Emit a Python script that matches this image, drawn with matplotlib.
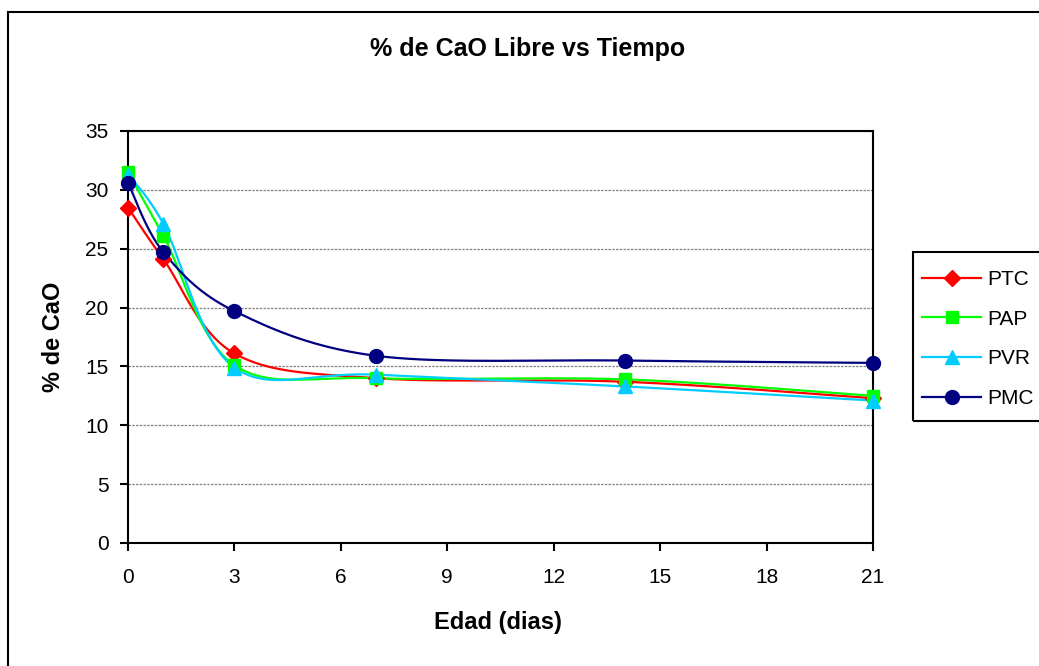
import numpy as np
import matplotlib
matplotlib.use("Agg")
import matplotlib.pyplot as plt
from matplotlib.patches import Rectangle

plt.rcParams["font.family"] = ["Liberation Sans", "DejaVu Sans"]

# Age of the samples (days) and free CaO content (%) per mix
dias = [0, 1, 3, 7, 14, 21]
ptc = [28.5, 24.1, 16.1, 14.0, 13.7, 12.3]
pap = [31.5, 26.1, 15.1, 14.0, 13.9, 12.5]
pvr = [31.3, 27.1, 14.9, 14.3, 13.3, 12.1]
pmc = [30.6, 24.7, 19.7, 15.9, 15.5, 15.3]

series_names = ["PTC", "PAP", "PVR", "PMC"]
series_values = [ptc, pap, pvr, pmc]
x_ticks = [0, 3, 6, 9, 12, 15, 18, 21]
y_ticks = [0, 5, 10, 15, 20, 25, 30, 35]

colors = ["#FF0000", "#00FF00", "#00CCFF", "#000080"]
markers = ["D", "s", "^", "o"]
msizes = [8.5, 9, 10.5, 10]


def smooth_curve(x, y, n=40):
    """Cubic Bezier smoothing through every point (Catmull-Rom style)."""
    p = np.column_stack([x, y]).astype(float)
    pts = np.vstack([p[0], p, p[-1]])
    out = []
    t = np.linspace(0, 1, n)[:, None]
    for i in range(1, len(pts) - 2):
        p0, p1, p2, p3 = pts[i - 1], pts[i], pts[i + 1], pts[i + 2]
        c1 = p1 + (p2 - p0) / 6.0
        c2 = p2 - (p3 - p1) / 6.0
        seg = ((1 - t) ** 3) * p1 + 3 * ((1 - t) ** 2) * t * c1 \
            + 3 * (1 - t) * t ** 2 * c2 + t ** 3 * p2
        out.append(seg if i == 1 else seg[1:])
    curve = np.vstack(out)
    return curve[:, 0], curve[:, 1]


W, H = 1039, 666
fig = plt.figure(figsize=(W / 100, H / 100), dpi=100)
ax = fig.add_axes([128 / W, 1 - 543 / H, 745 / W, 412 / H])

handles = []
for name, vals, c, m, ms in zip(series_names, series_values, colors, markers, msizes):
    sx, sy = smooth_curve(dias, vals)
    ax.plot(sx, sy, color=c, lw=1.6, zorder=3, clip_on=False)
    ax.plot(dias, vals, linestyle="none", marker=m, color=c, ms=ms,
            mec=c, zorder=4, clip_on=False)
    h, = ax.plot([], [], color=c, lw=1.6, marker=m, ms=ms, mec=c)
    handles.append(h)

ax.set_xlim(0, 21)
ax.set_ylim(0, 35)
ax.set_xticks(x_ticks)
ax.set_yticks(y_ticks)
ax.tick_params(axis="both", direction="out", length=6, width=1.5,
               labelsize=15, colors="black")
ax.tick_params(axis="y", pad=8)
ax.tick_params(axis="x", pad=12)
for s in ax.spines.values():
    s.set_linewidth(1.5)
    s.set_color("black")
ax.yaxis.grid(True, color="#808080", linestyle=(0, (2, 1)), linewidth=0.9)
ax.set_axisbelow(True)

fig.text(528 / W, 1 - 49 / H, "% de CaO Libre vs Tiempo", ha="center",
         va="center", fontsize=18, fontweight="bold")
fig.text(498 / W, 1 - 622 / H, "Edad (dias)", ha="center", va="center",
         fontsize=17, fontweight="bold")
fig.text(54 / W, 1 - 337 / H, "% de CaO", ha="center", va="center",
         rotation=90, fontsize=17, fontweight="bold")

# outer chart frame
fig.add_artist(Rectangle((8 / W, -0.2), 1.3, 1 - 12 / H + 0.2,
                         transform=fig.transFigure, fill=False,
                         edgecolor="black", lw=1.5))
# legend frame
fig.add_artist(Rectangle((913 / W, 1 - 421 / H), 0.3, 169 / H,
                         transform=fig.transFigure, fill=False,
                         edgecolor="black", lw=1.5))
fig.legend(handles, series_names, loc="upper left",
           bbox_to_anchor=(922 / W, 1 - 270 / H), frameon=False,
           fontsize=15, handlelength=2.85, handletextpad=0.3,
           labelspacing=0.99, borderaxespad=0, borderpad=0)

fig.savefig("out.png", dpi=100, facecolor="white")
